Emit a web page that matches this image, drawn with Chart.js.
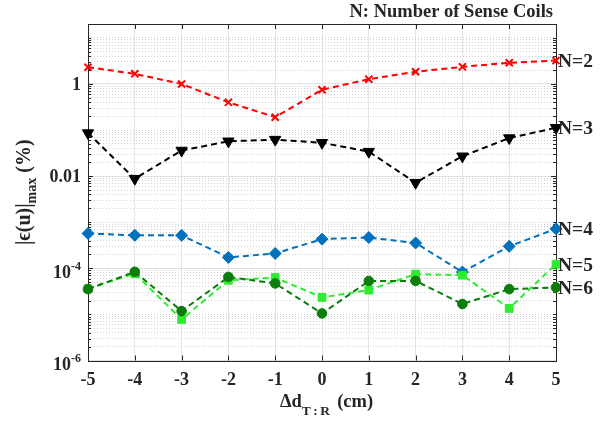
<!DOCTYPE html>
<html>
<head>
<meta charset="utf-8">
<script src="https://cdn.jsdelivr.net/npm/chart.js@4"></script>
<style>
  html, body { margin: 0; padding: 0; background: #fff; }
</style>
</head>
<body>
<canvas id="chart" width="610" height="424"></canvas>
<script>
const xValues = [-5, -4, -3, -2, -1, 0, 1, 2, 3, 4, 5];
const n2Values = [2.31, 1.66, 1.0, 0.40, 0.19, 0.75, 1.27, 1.84, 2.35, 2.88, 3.22];
const n3Values = [0.086, 0.0088, 0.036, 0.057, 0.062, 0.053, 0.034, 0.0072, 0.027, 0.067, 0.112];
const n4Values = [5.7e-4, 5.2e-4, 5.2e-4, 1.72e-4, 2.1e-4, 4.3e-4, 4.66e-4, 3.55e-4, 8.3e-5, 3.0e-4, 7.2e-4];
const n5Values = [3.6e-5, 7.7e-5, 7.8e-6, 5.5e-5, 6.3e-5, 2.34e-5, 3.37e-5, 7.5e-5, 7.1e-5, 1.35e-5, 1.23e-4];
const n6Values = [3.54e-5, 8.4e-5, 1.18e-5, 6.5e-5, 4.7e-5, 1.05e-5, 5.3e-5, 5.35e-5, 1.68e-5, 3.54e-5, 3.85e-5];
const seriesNames = ['N=2', 'N=3', 'N=4', 'N=5', 'N=6'];
const yMajorTicks = [1e-6, 1e-4, 1e-2, 1];
const yTickLabels = ['10^-6', '10^-4', '0.01', '1'];
const titleText = 'N: Number of Sense Coils';

const FONT = '"Liberation Serif", "Times New Roman", serif';
const AXIS = '#262626';

// minor log ticks: 1..9 x 10^e
const yMinorTicks = [];
for (let e = -6; e <= 1; e++) {
  for (let k = 1; k <= 9; k++) {
    const v = k * Math.pow(10, e);
    if (v <= 20) yMinorTicks.push(v);
  }
}

function pts(vals) {
  return xValues.map((x, i) => ({ x: x, y: vals[i] }));
}

function series(label, vals, color, style, radius, extra) {
  return Object.assign({
    label: label,
    data: pts(vals),
    borderColor: color,
    backgroundColor: color,
    pointBackgroundColor: color,
    pointBorderColor: color,
    borderWidth: 2,
    borderDash: [6, 4],
    pointStyle: style,
    pointRadius: radius,
    pointBorderWidth: 1,
    clip: false,
    tension: 0
  }, extra || {});
}

// draws text pieces [text, size, yShift, letterGap] centred on cx
function drawParts(ctx, parts, cx, baseY) {
  const widthOf = p => {
    ctx.font = 'bold ' + p[1] + 'px ' + FONT;
    let w = 0;
    for (const ch of p[0]) w += ctx.measureText(ch).width + (p[3] || 0);
    return w;
  };
  let total = 0;
  parts.forEach(p => { total += widthOf(p); });
  let x = cx - total / 2;
  ctx.textAlign = 'left';
  parts.forEach(p => {
    ctx.font = 'bold ' + p[1] + 'px ' + FONT;
    if (p[3]) {
      for (const ch of p[0]) {
        ctx.fillText(ch, x, baseY + p[2]);
        x += ctx.measureText(ch).width + p[3];
      }
    } else {
      ctx.fillText(p[0], x, baseY + p[2]);
      x += ctx.measureText(p[0]).width;
    }
  });
}

const annotPlugin = {
  id: 'annot',
  beforeDatasetsDraw(chart) {
    const ctx = chart.ctx;
    const a = chart.chartArea;
    const xs = chart.scales.x;
    const ys = chart.scales.y;
    ctx.save();
    ctx.strokeStyle = AXIS;
    ctx.lineWidth = 1;
    ctx.strokeRect(Math.round(a.left) + 0.5, Math.round(a.top) + 0.5,
      Math.round(a.right - a.left), Math.round(a.bottom - a.top));
    ctx.beginPath();
    xValues.forEach(v => {
      const px = Math.round(xs.getPixelForValue(v)) + 0.5;
      ctx.moveTo(px, a.bottom); ctx.lineTo(px, a.bottom - 5);
      ctx.moveTo(px, a.top); ctx.lineTo(px, a.top + 5);
    });
    yMinorTicks.forEach(v => {
      const py = Math.round(ys.getPixelForValue(v)) + 0.5;
      const len = yMajorTicks.includes(v) ? 5 : 3;
      ctx.moveTo(a.left, py); ctx.lineTo(a.left + len, py);
      ctx.moveTo(a.right, py); ctx.lineTo(a.right - len, py);
    });
    ctx.stroke();
    ctx.restore();
  },
  afterDraw(chart) {
    const ctx = chart.ctx;
    const a = chart.chartArea;
    const ys = chart.scales.y;
    ctx.save();
    ctx.fillStyle = AXIS;

    // y tick labels with superscripts
    yMajorTicks.forEach((v, i) => {
      const py = ys.getPixelForValue(v);
      const lab = yTickLabels[i];
      const right = a.left - 7;
      if (lab.includes('^')) {
        const [base, exp] = lab.split('^');
        ctx.font = 'bold 12px ' + FONT;
        const we = ctx.measureText(exp).width;
        ctx.textAlign = 'left';
        ctx.fillText(exp, right - we, py + 1.5);
        ctx.font = 'bold 18px ' + FONT;
        ctx.textAlign = 'right';
        ctx.fillText(base, right - we, py + 9.5);
      } else {
        ctx.font = 'bold 18px ' + FONT;
        ctx.textAlign = 'right';
        ctx.fillText(lab, right, py + 6);
      }
    });

    // title
    ctx.font = 'bold 18.5px ' + FONT;
    ctx.textAlign = 'right';
    ctx.fillText(titleText, 553, 17);

    // series labels at right end
    ctx.textAlign = 'left';
    ctx.textBaseline = 'middle';
    ctx.font = 'bold 19.5px ' + FONT;
    chart.data.datasets.forEach((ds, i) => {
      const meta = chart.getDatasetMeta(i);
      const last = meta.data[meta.data.length - 1];
      ctx.fillText(seriesNames[i], a.right + 2, last.y + 1.5);
    });
    ctx.textBaseline = 'alphabetic';

    // x axis title: Δd_T:R (cm)
    drawParts(ctx, [['Δd', 18.5, 0], ['T:R', 13.5, 8, 2.5], [' (cm)', 18.5, 0]], 326.5, 406.5);

    // y axis title: |ϵ(u)|_max (%)
    ctx.translate(30, (a.top + a.bottom) / 2);
    ctx.rotate(-Math.PI / 2);
    drawParts(ctx, [['|ϵ(u)|', 20, 0], ['max', 14, 6], [' (%)', 20, 0]], 0, 0);
    ctx.restore();
  }
};

const datasets = [
  series(seriesNames[0], n2Values, '#ff0000', 'crossRot', 5, { pointBorderWidth: 2, order: 5 }),
  series(seriesNames[1], n3Values, '#000000', 'triangle', 6.5, { rotation: 180, order: 4 }),
  series(seriesNames[2], n4Values, '#0072bd', 'rectRot', 6, { order: 3 }),
  series(seriesNames[3], n5Values, '#2eec2e', 'rect', 5.5, { order: 2 }),
  series(seriesNames[4], n6Values, '#0a7d0a', 'circle', 4.8, { order: 1 })
];

new Chart(document.getElementById('chart').getContext('2d'), {
  type: 'line',
  data: { datasets: datasets },
  options: {
    responsive: false,
    animation: false,
    layout: { padding: { left: 0, right: 54, top: 24, bottom: 0 } },
    plugins: { legend: { display: false }, tooltip: { enabled: false } },
    scales: {
      x: {
        type: 'linear',
        min: -5,
        max: 5,
        ticks: {
          stepSize: 1,
          color: AXIS,
          padding: 9,
          font: { family: FONT, size: 18, weight: 'bold' }
        },
        grid: { color: '#e4e4e4', drawTicks: false },
        border: { display: false },
        afterFit: s => { s.height = 63.5; }
      },
      y: {
        type: 'logarithmic',
        min: 1e-6,
        max: 20,
        position: 'left',
        ticks: { display: false },
        afterBuildTicks: s => { s.ticks = yMajorTicks.map(v => ({ value: v })); },
        grid: { color: '#e0e0e0', drawTicks: false },
        border: { display: false },
        afterFit: s => { s.width = 88; }
      },
      yMinor: {
        type: 'logarithmic',
        min: 1e-6,
        max: 20,
        position: 'left',
        ticks: { display: false },
        afterBuildTicks: s => { s.ticks = yMinorTicks.filter(v => !yMajorTicks.includes(v)).map(v => ({ value: v })); },
        grid: { color: '#d2d2d2', drawTicks: false },
        border: { display: false, dash: [1, 2] },
        afterFit: s => { s.width = 0; }
      }
    }
  },
  plugins: [annotPlugin]
});
</script>
</body>
</html>
